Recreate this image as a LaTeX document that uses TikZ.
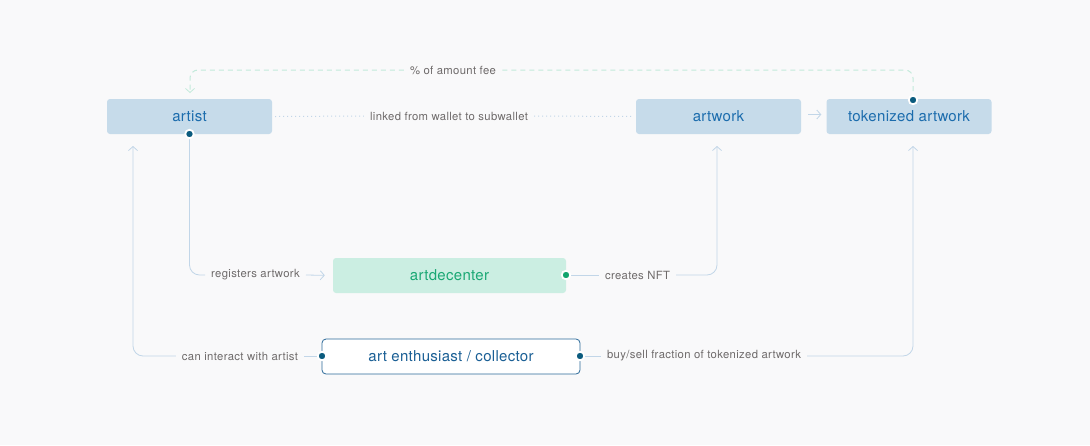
\documentclass[tikz,border=0pt]{standalone}
\usepackage{fontspec}
\setmainfont{TeX Gyre Heros}
\newfontfamily\lblfont[LetterSpace=3]{TeX Gyre Heros}
\newfontfamily\boxfont[LetterSpace=2]{TeX Gyre Heros}
\usetikzlibrary{arrows.meta}
\definecolor{bg}{HTML}{F9F9FA}
\definecolor{boxfill}{HTML}{C6DBEA}
\definecolor{boxtext}{HTML}{1B6CAD}
\definecolor{mintfill}{HTML}{CBEEE2}
\definecolor{minttext}{HTML}{1AA874}
\definecolor{linec}{HTML}{C2D6E8}
\definecolor{dashc}{HTML}{C3EADB}
\definecolor{dotc}{HTML}{0B5B7E}
\definecolor{greendot}{HTML}{12A56E}
\definecolor{labelc}{HTML}{6E6A6A}
\definecolor{fanborder}{HTML}{2C6A99}
\definecolor{fantext}{HTML}{1A5F95}
\tikzset{
  x=1pt, y=-1pt,
  bluebox/.style={fill=boxfill, draw=none, rounded corners=3pt, minimum width=165pt, minimum height=35pt, text=boxtext, font=\boxfont\fontsize{15}{17}\selectfont, inner sep=0pt},
  mintbox/.style={fill=mintfill, draw=none, rounded corners=3pt, minimum width=233pt, minimum height=35pt, text=minttext, font=\boxfont\fontsize{15}{17}\selectfont, inner sep=0pt},
  fanbox/.style={fill=white, draw=fanborder, line width=0.8pt, rounded corners=4pt, minimum width=258pt, minimum height=35pt, text=fantext, font=\boxfont\fontsize{15}{17}\selectfont, inner sep=0pt},
  lbl/.style={text=labelc, font=\lblfont\fontsize{11.3}{13}\selectfont, inner xsep=6pt, inner ysep=2pt},
  conn/.style={draw=linec, line width=0.8pt, rounded corners=10pt},
  tip/.style={-{Straight Barb[length=4pt,width=9pt,line width=0.8pt]}},
  dashline/.style={draw=dashc, line width=1pt, dash pattern=on 5pt off 4pt, rounded corners=8pt},
  dotline/.style={draw=linec, line width=1pt, dash pattern=on 1pt off 3pt},
  dot/.style={circle, fill=dotc, draw=white, line width=1.8pt, minimum size=8.5pt, inner sep=0pt},
  gdot/.style={circle, fill=greendot, draw=white, line width=1.8pt, minimum size=8.5pt, inner sep=0pt},
}
\begin{document}
\begin{tikzpicture}
\fill[bg] (0,0) rectangle (1090,445);
\useasboundingbox (0,0) rectangle (1090,445);

% boxes
\node[bluebox] (artist) at (189.5,116.5) {artist};
\node[bluebox] (artwork) at (718.5,116.5) {artwork};
\node[bluebox] (tok) at (909,116.5) {tokenized artwork};
\node[mintbox] (adc) at (449.5,275.5) {artdecenter};
\node[fanbox] (fan) at (451,356.5) {art enthusiast / collector};

% labels
\node[lbl] (lfee) at (453,70) {\% of amount fee};
\node[lbl] (llink) at (449,116) {linked from wallet to subwallet};
\node[lbl] (lreg) at (255.5,275) {registers artwork};
\node[lbl] (lnft) at (637.5,275) {creates NFT};
\node[lbl] (lint) at (240,356) {can interact with artist};
\node[lbl] (lbuy) at (704,356) {buy/sell fraction of tokenized artwork};

% coordinates
\coordinate (tokdot) at (913,100);
\coordinate (feeR) at (913,70);
\coordinate (feeL) at (190,70);
\coordinate (artTop) at (190,93);
\coordinate (artdot) at (189.5,134);
\coordinate (regC) at (189.5,275);
\coordinate (adcdot) at (566,275);
\coordinate (nftC) at (717,275);
\coordinate (awBot) at (717,146);
\coordinate (fanL) at (322,356);
\coordinate (intC) at (133,356);
\coordinate (arBot) at (133,146);
\coordinate (fanR) at (580,356);
\coordinate (buyC) at (913,356);
\coordinate (tkBot) at (913,146);

% dashed fee line
\draw[dashline] (tokdot) -- (feeR) -- (lfee.east);
\draw[dashline, tip] (lfee.west) -- (feeL) -- (artTop);

% dotted link line
\draw[dotline] ([xshift=3pt]artist.east) -- (llink.west);
\draw[dotline] (llink.east) -- ([xshift=-3pt]artwork.west);

% artwork -> tokenized
\draw[draw=linec, line width=0.8pt, tip, shorten <=7pt, shorten >=5pt] ([yshift=2pt]artwork.east) -- ([yshift=2pt]tok.west);

% registers
\draw[conn] (artdot) -- (regC) -- (lreg.west);
\draw[conn, tip, shorten >=8pt] (lreg.east) -- (adc.west);

% creates NFT
\draw[conn] (adcdot) -- (lnft.west);
\draw[conn, tip] (lnft.east) -- (nftC) -- (awBot);

% can interact
\draw[conn] (fanL) -- (lint.east);
\draw[conn, tip] (lint.west) -- (intC) -- (arBot);

% buy/sell
\draw[conn] (fanR) -- (lbuy.west);
\draw[conn, tip] (lbuy.east) -- (buyC) -- (tkBot);

% dots
\node[dot] at (artdot) {};
\node[dot] at (tokdot) {};
\node[gdot] at (adcdot) {};
\node[dot] at (fanL) {};
\node[dot] at (fanR) {};
\end{tikzpicture}
\end{document}
